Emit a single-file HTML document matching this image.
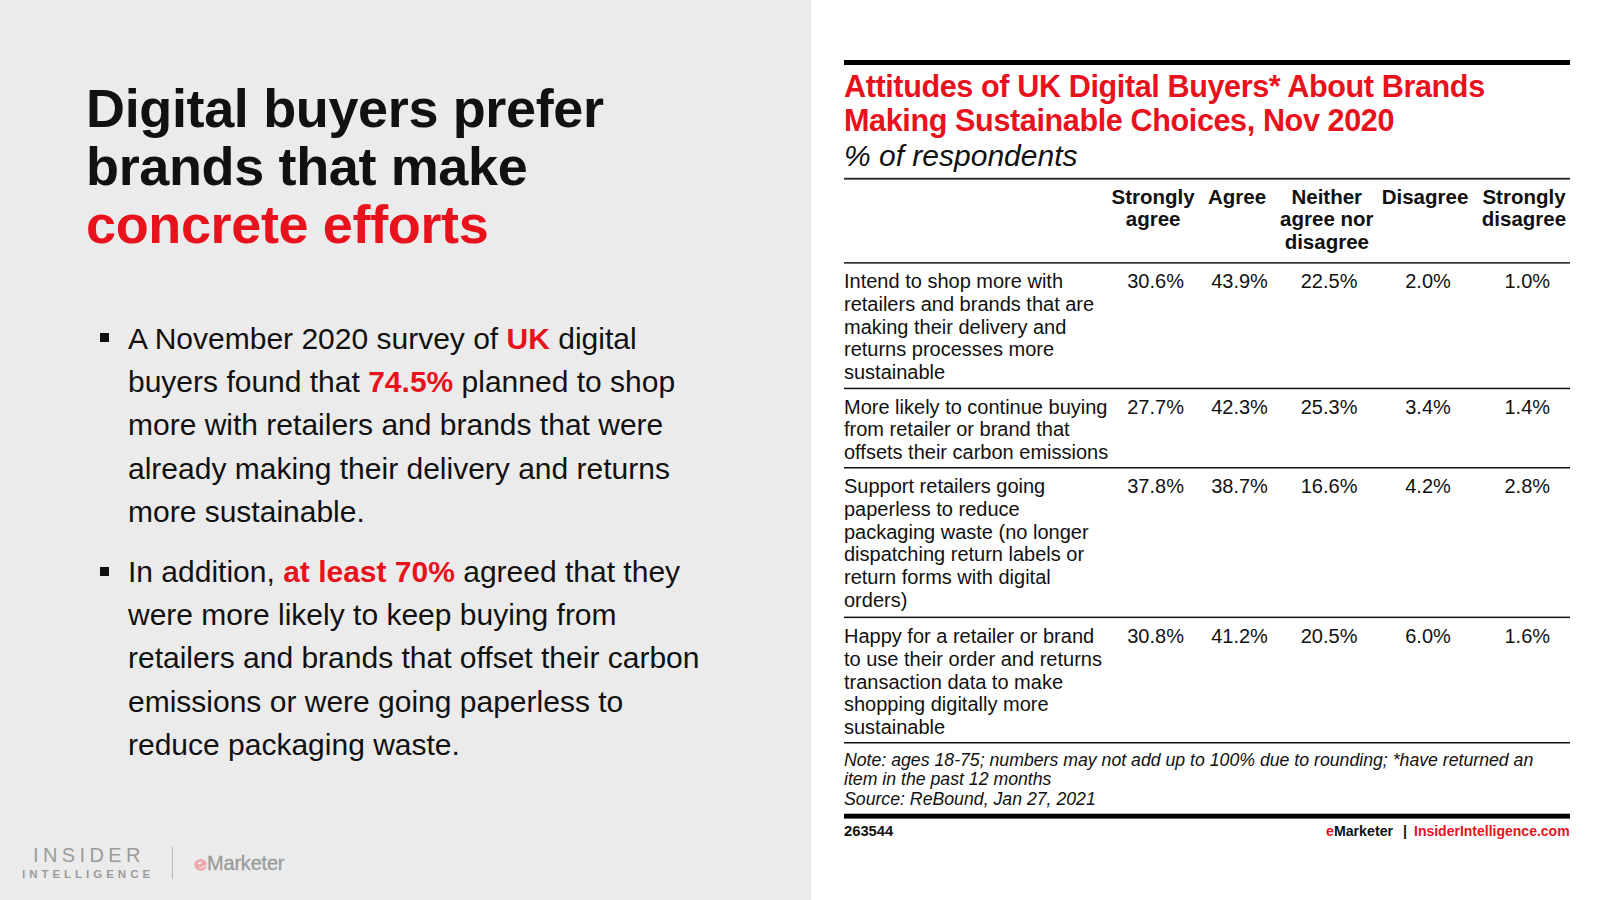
<!DOCTYPE html>
<html><head><meta charset="utf-8">
<style>
*{margin:0;padding:0;box-sizing:border-box}
html,body{width:1600px;height:900px;overflow:hidden;background:#fff}
body{position:relative;font-family:"Liberation Sans",sans-serif;color:#111}
.t{position:absolute;white-space:nowrap}
</style></head><body>
<div style="position:absolute;left:0;top:0;width:811px;height:900px;background:#ebebeb"></div>
<div class="t" style="left:86px;top:79.29px;font-size:54px;line-height:58px;font-weight:bold;color:#111111;letter-spacing:-0.36px">Digital buyers prefer</div>
<div class="t" style="left:86px;top:137.29px;font-size:54px;line-height:58px;font-weight:bold;color:#111111;letter-spacing:-0.36px">brands that make</div>
<div class="t" style="left:86px;top:195.29px;font-size:54px;line-height:58px;font-weight:bold;color:#111111;letter-spacing:-0.36px"><span style="color:#e8121d">concrete efforts</span></div>
<div class="t" style="left:128px;top:316.75px;font-size:30px;line-height:43.3px;color:#111111">A November 2020 survey of <b style="color:#e8121d">UK</b> digital</div>
<div class="t" style="left:128px;top:360.06px;font-size:30px;line-height:43.3px;color:#111111">buyers found that <b style="color:#e8121d">74.5%</b> planned to shop</div>
<div class="t" style="left:128px;top:403.35px;font-size:30px;line-height:43.3px;color:#111111">more with retailers and brands that were</div>
<div class="t" style="left:128px;top:446.65px;font-size:30px;line-height:43.3px;color:#111111">already making their delivery and returns</div>
<div class="t" style="left:128px;top:489.95px;font-size:30px;line-height:43.3px;color:#111111">more sustainable.</div>
<div class="t" style="left:128px;top:549.75px;font-size:30px;line-height:43.3px;color:#111111">In addition, <b style="color:#e8121d">at least 70%</b> agreed that they</div>
<div class="t" style="left:128px;top:593.05px;font-size:30px;line-height:43.3px;color:#111111">were more likely to keep buying from</div>
<div class="t" style="left:128px;top:636.36px;font-size:30px;line-height:43.3px;color:#111111">retailers and brands that offset their carbon</div>
<div class="t" style="left:128px;top:679.65px;font-size:30px;line-height:43.3px;color:#111111">emissions or were going paperless to</div>
<div class="t" style="left:128px;top:722.96px;font-size:30px;line-height:43.3px;color:#111111">reduce packaging waste.</div>
<div style="position:absolute;left:100px;top:333px;width:9px;height:9px;background:#111111"></div>
<div style="position:absolute;left:100px;top:567px;width:9px;height:9px;background:#111111"></div>
<div class="t" style="left:33px;top:843px;font-size:20px;line-height:24px;letter-spacing:4.37px;color:#9b9b9b">INSIDER</div>
<div class="t" style="left:22px;top:867px;font-size:11.5px;line-height:14px;font-weight:bold;letter-spacing:3.98px;color:#9b9b9b">INTELLIGENCE</div>
<div style="position:absolute;left:171.5px;top:847px;width:1.2px;height:32px;background:#b5b5b5"></div>
<div class="t" style="left:207px;top:851px;font-size:20px;line-height:24px;letter-spacing:-0.2px;-webkit-text-stroke:0.3px #9b9b9b;color:#9b9b9b">Marketer</div>
<svg style="position:absolute;left:194px;top:858px" width="14" height="14" viewBox="0 0 14 14"><ellipse cx="6.6" cy="6.8" rx="6.3" ry="5.9" fill="#eca8ac"/><ellipse cx="5.9" cy="4.9" rx="2" ry="1.2" transform="rotate(-12 5.9 4.9)" fill="#ebebeb"/><path d="M3.6 8.4 Q5.8 10.6 8.6 8.6 L13.4 6.3 L13.4 7.6 L9 9.6 Q5.6 11.8 3.6 8.4 Z" fill="#ebebeb"/></svg>
<div class="t" style="left:844px;top:68.70px;font-size:30.6px;line-height:34px;font-weight:bold;color:#e8121d;letter-spacing:-0.4px">Attitudes of UK Digital Buyers* About Brands</div>
<div class="t" style="left:844px;top:102.60px;font-size:30.6px;line-height:34px;font-weight:bold;color:#e8121d;letter-spacing:-0.4px">Making Sustainable Choices, Nov 2020</div>
<div class="t" style="left:844px;top:138.50px;font-size:30px;line-height:34px;font-style:italic;color:#111">% of respondents</div>
<div class="t" style="left:1093.1px;width:120px;top:185.85px;font-size:20.5px;line-height:22.5px;font-weight:bold;color:#111;text-align:center">Strongly<br>agree</div>
<div class="t" style="left:1177px;width:120px;top:185.85px;font-size:20.5px;line-height:22.5px;font-weight:bold;color:#111;text-align:center">Agree</div>
<div class="t" style="left:1266.8px;width:120px;top:185.85px;font-size:20.5px;line-height:22.5px;font-weight:bold;color:#111;text-align:center">Neither<br>agree nor<br>disagree</div>
<div class="t" style="left:1365px;width:120px;top:185.85px;font-size:20.5px;line-height:22.5px;font-weight:bold;color:#111;text-align:center">Disagree</div>
<div class="t" style="left:1464px;width:120px;top:185.85px;font-size:20.5px;line-height:22.5px;font-weight:bold;color:#111;text-align:center">Strongly<br>disagree</div>
<div class="t" style="left:844px;top:269.94px;font-size:20px;line-height:22.85px;color:#111">Intend to shop more with<br>retailers and brands that are<br>making their delivery and<br>returns processes more<br>sustainable</div>
<div class="t" style="left:1105.6px;width:100px;text-align:center;top:269.94px;font-size:20px;line-height:22.85px;color:#111">30.6%</div>
<div class="t" style="left:1189.5px;width:100px;text-align:center;top:269.94px;font-size:20px;line-height:22.85px;color:#111">43.9%</div>
<div class="t" style="left:1279.1px;width:100px;text-align:center;top:269.94px;font-size:20px;line-height:22.85px;color:#111">22.5%</div>
<div class="t" style="left:1378px;width:100px;text-align:center;top:269.94px;font-size:20px;line-height:22.85px;color:#111">2.0%</div>
<div class="t" style="left:1477.3px;width:100px;text-align:center;top:269.94px;font-size:20px;line-height:22.85px;color:#111">1.0%</div>
<div class="t" style="left:844px;top:395.55px;font-size:20px;line-height:22.85px;color:#111">More likely to continue buying<br>from retailer or brand that<br>offsets their carbon emissions</div>
<div class="t" style="left:1105.6px;width:100px;text-align:center;top:395.55px;font-size:20px;line-height:22.85px;color:#111">27.7%</div>
<div class="t" style="left:1189.5px;width:100px;text-align:center;top:395.55px;font-size:20px;line-height:22.85px;color:#111">42.3%</div>
<div class="t" style="left:1279.1px;width:100px;text-align:center;top:395.55px;font-size:20px;line-height:22.85px;color:#111">25.3%</div>
<div class="t" style="left:1378px;width:100px;text-align:center;top:395.55px;font-size:20px;line-height:22.85px;color:#111">3.4%</div>
<div class="t" style="left:1477.3px;width:100px;text-align:center;top:395.55px;font-size:20px;line-height:22.85px;color:#111">1.4%</div>
<div class="t" style="left:844px;top:474.94px;font-size:20px;line-height:22.85px;color:#111">Support retailers going<br>paperless to reduce<br>packaging waste (no longer<br>dispatching return labels or<br>return forms with digital<br>orders)</div>
<div class="t" style="left:1105.6px;width:100px;text-align:center;top:474.94px;font-size:20px;line-height:22.85px;color:#111">37.8%</div>
<div class="t" style="left:1189.5px;width:100px;text-align:center;top:474.94px;font-size:20px;line-height:22.85px;color:#111">38.7%</div>
<div class="t" style="left:1279.1px;width:100px;text-align:center;top:474.94px;font-size:20px;line-height:22.85px;color:#111">16.6%</div>
<div class="t" style="left:1378px;width:100px;text-align:center;top:474.94px;font-size:20px;line-height:22.85px;color:#111">4.2%</div>
<div class="t" style="left:1477.3px;width:100px;text-align:center;top:474.94px;font-size:20px;line-height:22.85px;color:#111">2.8%</div>
<div class="t" style="left:844px;top:624.85px;font-size:20px;line-height:22.85px;color:#111">Happy for a retailer or brand<br>to use their order and returns<br>transaction data to make<br>shopping digitally more<br>sustainable</div>
<div class="t" style="left:1105.6px;width:100px;text-align:center;top:624.85px;font-size:20px;line-height:22.85px;color:#111">30.8%</div>
<div class="t" style="left:1189.5px;width:100px;text-align:center;top:624.85px;font-size:20px;line-height:22.85px;color:#111">41.2%</div>
<div class="t" style="left:1279.1px;width:100px;text-align:center;top:624.85px;font-size:20px;line-height:22.85px;color:#111">20.5%</div>
<div class="t" style="left:1378px;width:100px;text-align:center;top:624.85px;font-size:20px;line-height:22.85px;color:#111">6.0%</div>
<div class="t" style="left:1477.3px;width:100px;text-align:center;top:624.85px;font-size:20px;line-height:22.85px;color:#111">1.6%</div>
<div class="t" style="left:844px;top:749.57px;font-size:17.7px;line-height:20px;font-style:italic;color:#111">Note: ages 18-75; numbers may not add up to 100% due to rounding; *have returned an</div>
<div class="t" style="left:844px;top:769.47px;font-size:17.7px;line-height:20px;font-style:italic;color:#111">item in the past 12 months</div>
<div class="t" style="left:844px;top:789.47px;font-size:17.7px;line-height:20px;font-style:italic;color:#111">Source: ReBound, Jan 27, 2021</div>
<div class="t" style="left:844px;top:822.69px;font-size:14.75px;line-height:16px;font-weight:bold;color:#111">263544</div>
<div class="t" style="left:1326px;top:822.88px;font-size:14.2px;line-height:16px;font-weight:bold;color:#111"><span style="color:#e8121d">e</span>Marketer</div>
<div class="t" style="left:1403px;top:822.88px;font-size:14.2px;line-height:16px;font-weight:bold;color:#111">|</div>
<div class="t" style="left:1414px;top:822.95px;font-size:14.0px;line-height:16px;font-weight:bold;color:#e8121d">InsiderIntelligence.com</div>
<svg style="position:absolute;left:0;top:0" width="1600" height="900" viewBox="0 0 1600 900"><rect x="844" y="60" width="726" height="5" fill="#000"/><rect x="844" y="177.8" width="726" height="1.8" fill="#222"/><rect x="844" y="262.0" width="726" height="1.7" fill="#333"/><rect x="844" y="387.7" width="726" height="1.5" fill="#111"/><rect x="844" y="467.0" width="726" height="1.5" fill="#111"/><rect x="844" y="616.6" width="726" height="1.5" fill="#111"/><rect x="844" y="742.0" width="726" height="1.5" fill="#111"/><rect x="844" y="813.7" width="726" height="4.9" fill="#000"/></svg>
</body></html>
